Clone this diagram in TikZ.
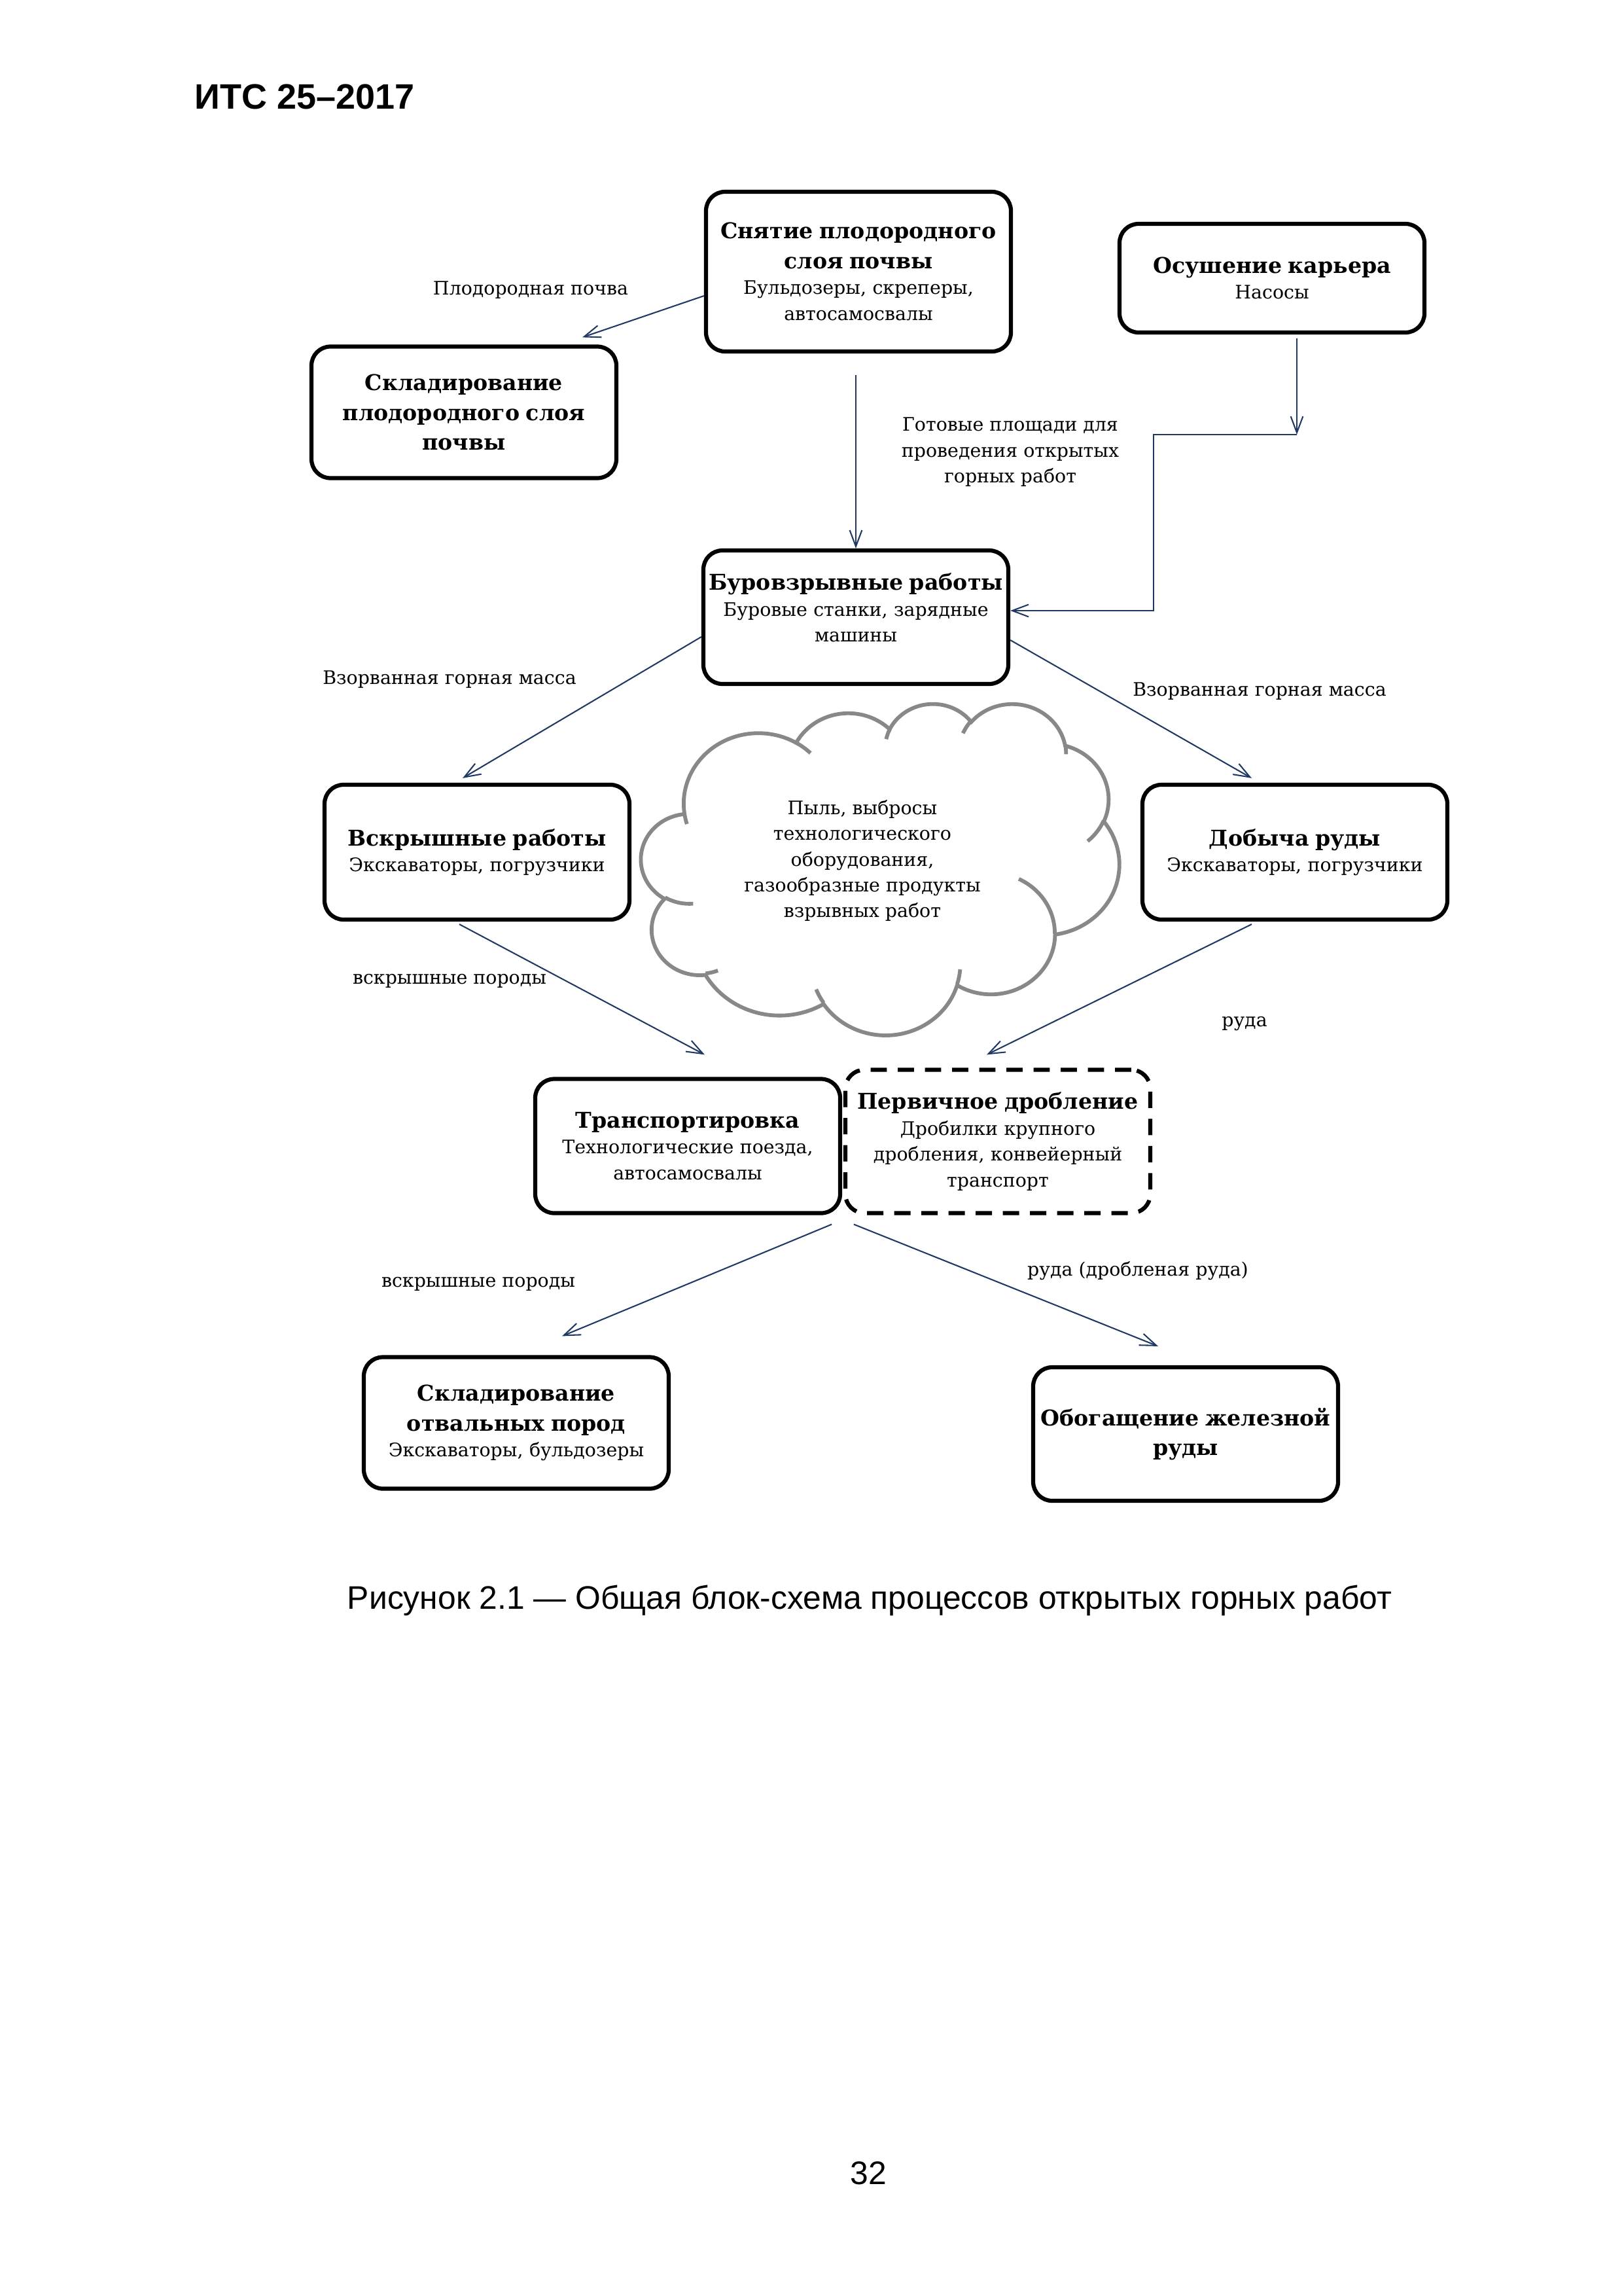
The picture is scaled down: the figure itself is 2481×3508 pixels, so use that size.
\documentclass[tikz,border=0pt]{standalone}
\usepackage{fontspec}
\setmainfont{DejaVu Serif}
\newfontfamily\pagefont{Liberation Sans}
\usetikzlibrary{arrows.meta,calc}
\newlength{\px}\setlength{\px}{0.0084645cm}
\definecolor{arrowblue}{RGB}{31,56,100}
\definecolor{cloudgray}{RGB}{136,136,136}
\newcommand{\ttl}[1]{{\fontsize{8}{11}\selectfont\bfseries #1\par}}
\tikzset{
  proc/.style={draw, line width=1.5pt, rounded corners=7pt, minimum width=466\px,
    text width=110pt, align=center, inner xsep=1pt, inner ysep=2pt,
    font=\fontsize{6.85}{9.5}\selectfont},
  arr/.style={draw=arrowblue, line width=0.5pt, -{Straight Barb[length=6pt,width=4.5pt]}},
  lbl/.style={font=\fontsize{6.85}{9.5}\selectfont, align=center, inner sep=0pt},
  pagetext/.style={font=\pagefont\fontsize{12}{14}\selectfont, inner sep=0pt},
  puff/.style={draw=cloudgray, line width=1.4pt},
  puffarc/.style n args={4}{start angle={atan2(#1*sin(#3),#2*cos(#3))},
    delta angle={mod(atan2(#1*sin(#3+#4),#2*cos(#3+#4))-atan2(#1*sin(#3),#2*cos(#3))+720,360)},
    x radius=#1, y radius=#2}
}
\begin{document}
\begin{tikzpicture}[x=\px, y=-\px]
  \fill[white] (0,0) rectangle (2481,3508);
  \useasboundingbox (0,0) rectangle (2481,3508);

  \node[pagetext, font=\pagefont\bfseries\fontsize{13}{15}\selectfont, anchor=west] (doc) at (297,148) {ИТС 25–2017};

  \node[proc, minimum height=244\px] (topsoil) at (1312,415) {\ttl{Снятие плодородного\\слоя почвы}Бульдозеры, скреперы,\\автосамосвалы};
  \node[proc, minimum height=166\px] (drain) at (1944,425) {\ttl{Осушение карьера}Насосы};
  \node[proc, minimum height=201\px] (storesoil) at (709,630) {\ttl{Складирование\\плодородного слоя\\почвы}};
  \node[proc, minimum height=204\px] (blast) at (1308,943) {\ttl{Буровзрывные работы}Буровые станки, зарядные\\машины\rule[-7pt]{0pt}{7pt}};
  \node[proc, minimum height=206\px] (strip) at (729,1302) {\ttl{Вскрышные работы}Экскаваторы, погрузчики};
  \node[proc, minimum height=206\px] (mining) at (1979,1302) {\ttl{Добыча руды}Экскаваторы, погрузчики};
  \node[proc, minimum height=205\px] (haul) at (1051,1751) {\ttl{Транспортировка}Технологические поезда,\\автосамосвалы};
  \node[proc, minimum height=219\px, dash pattern=on 6pt off 4pt] (crush) at (1525,1744) {\ttl{Первичное дробление}Дробилки крупного\\дробления, конвейерный\\транспорт};
  \node[proc, minimum height=201\px] (dump) at (789,2174) {\ttl{Складирование\\отвальных пород}Экскаваторы, бульдозеры};
  \node[proc, minimum height=204\px] (benef) at (1812,2191) {\ttl{Обогащение железной\\руды}};

  \begin{scope}[shift={(980,1074)}, x=0.016921\px, y=-0.011759\px]
    \draw[puff] (3900,14370)
      \foreach \w/\h/\s/\d in {6753/9190/-190.487/123.781, 5333/7267/-144.102/89.945,
        4365/5945/-145.808/99.723, 4857/6595/-130.986/117.242, 5333/7273/-78.709/109.027,
        6775/9220/-46.267/130.269, 5785/7867/0.625/114.033, 6752/9215/22.452/115.173,
        7720/10543/66.243/75.711, 4360/5918/-274.942/146.736, 4345/5945/-246.829/152.519}
      { arc[puffarc={\w}{\h}{\s}{\d}] } -- cycle;
    \foreach \mx/\my/\w/\h/\s/\d in {4693/26177/4345/5945/86.742/26.430,
        6928/34899/4360/5918/73.610/11.447, 16478/39090/6752/9215/137.624/14.081,
        28827/34751/6752/9215/6.453/15.998, 34129/22954/5785/7867/-70.292/70.917,
        41798/15354/5333/7273/30.318/27.752, 38324/5426/4857/6595/-13.744/14.859,
        29078/3952/4857/6595/-149.181/18.195, 22141/4720/4365/5945/-163.494/17.686,
        14000/5192/6753/9190/-66.707/12.319, 4127/15789/6753/9190/157.654/11.858}
      \draw[puff] (\mx,\my) arc[puffarc={\w}{\h}{\s}{\d}];
  \end{scope}
  \node[lbl] (dusttext) at (1318,1315) {Пыль, выбросы\\технологического\\оборудования,\\газообразные продукты\\взрывных работ};

  \coordinate (bend) at (1982,664);
  \draw[arr] ($(topsoil.west)+(0,37)$) -- ($(storesoil.north)+(181,-11)$);
  \draw[arr] ($(blast.north |- topsoil.south)+(0,33)$) -- (blast.north);
  \draw[arr] ($(bend |- drain.south)+(0,6)$) -- (bend);
  \draw[arr] (bend) -- ++(-219,0) |- ($(blast.east)+(0,-10)$);
  \draw[arr] ($(blast.west)+(0,30)$) -- ($(strip.north)+(-22,-7)$);
  \draw[arr] ($(blast.east)+(0,35)$) -- ($(mining.north)+(-66,-7)$);
  \draw[arr] ($(strip.south)+(-27,4)$) -- ($(haul.north)+(26,-34)$);
  \draw[arr] ($(mining.south)+(-66,4)$) -- ($(crush.north)+(-17,-20)$);
  \draw[arr] ($(haul.south east)+(-16,14)$) -- ($(dump.north)+(70,-29)$);
  \draw[arr] ($(crush.south west)+(16,14)$) -- ($(benef.north)+(-42,-29)$);

  \node[lbl] (soillbl) at (811,443) {Плодородная почва};
  \node[lbl] (readylbl) at (1544,691) {Готовые площади для\\проведения открытых\\горных работ};
  \node[lbl] (blastlbl) at (687,1038) {Взорванная горная масса};
  \node[lbl] (blastlbr) at (1925,1056) {Взорванная горная масса};
  \node[lbl] (striplbl) at (687,1499) {вскрышные породы};
  \node[lbl] (orelbl) at (1902,1564) {руда};
  \node[lbl] (dumplbl) at (731,1962) {вскрышные породы};
  \node[lbl] (crushlbl) at (1739,1942) {руда (дробленая руда)};

  \node[pagetext] (caption) at (1329,2445) {Рисунок 2.1 — Общая блок-схема процессов открытых горных работ};
  \node[pagetext] (pagenum) at (1327,3320) {32};
\end{tikzpicture}
\end{document}
